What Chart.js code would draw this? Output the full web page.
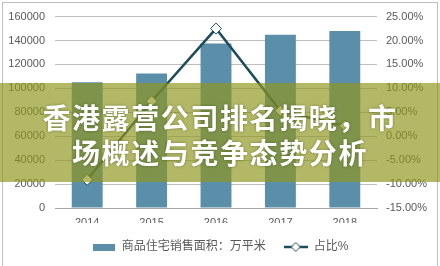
<!DOCTYPE html>
<html>
<head>
<meta charset="utf-8">
<script src="https://cdn.jsdelivr.net/npm/chart.js@4.4.0/dist/chart.umd.min.js"></script>
<style>
  html, body { margin: 0; padding: 0; background: #fff; }
  #wrap { position: relative; width: 440px; height: 266px; overflow: hidden; }
  #c { position: absolute; left: 0; top: 0; }
  #frame { position: absolute; left: 2px; top: 2px; width: 436px; height: 270px;
           border: 1px solid #bdbdbd; box-sizing: border-box; pointer-events: none; }
  #band { position: absolute; left: 0; top: 83px; width: 440px; height: 99px;
          background: rgba(143, 150, 30, 0.68); }
  #title { position: absolute; left: 0; top: 100px; width: 440px; text-align: center;
           font-family: "Noto Sans CJK SC", sans-serif; font-weight: bold; font-size: 28px;
           line-height: 35px; letter-spacing: 1.6px; color: #fff;
           text-shadow: 0 0 3px rgba(40, 50, 10, 0.45); }
</style>
</head>
<body>
<div id="wrap">
  <canvas id="c" width="440" height="266"></canvas>
  <div id="frame"></div>
  <div id="band"></div>
  <div id="title">香港露营公司排名揭晓，市<br>场概述与竞争态势分析</div>
</div>
<script>
const years = ['2014', '2015', '2016', '2017', '2018'];
const salesArea = [105188, 112412, 137540, 144789, 147929];   // 万平米
const sharePct = [-9.1, 7.3, 22.5, 5.3, 2.2];                 // %
const leftTicks = [0, 20000, 40000, 60000, 80000, 100000, 120000, 140000, 160000];
const rightTicks = [-15, -10, -5, 0, 5, 10, 15, 20, 25];

const BAR = '#5a8ea9';
const LINE = '#1e4d5a';
const TXT = '#595959';
const FONT = "'Liberation Sans', 'Noto Sans CJK SC', sans-serif";

// legend icons
function barIcon() {
    const cv = document.createElement('canvas');
    cv.width = 22; cv.height = 7;
    const g = cv.getContext('2d');
    g.fillStyle = BAR;
    g.fillRect(0, 0, 22, 7);
    return cv;
}
function lineIcon() {
    const cv = document.createElement('canvas');
    cv.width = 24; cv.height = 12;
    const g = cv.getContext('2d');
    g.strokeStyle = LINE; g.lineWidth = 2.5;
    g.beginPath(); g.moveTo(0, 6); g.lineTo(24, 6); g.stroke();
    g.fillStyle = '#fff'; g.lineWidth = 1;
    g.beginPath(); g.moveTo(12, 1.5); g.lineTo(16.5, 6); g.lineTo(12, 10.5); g.lineTo(7.5, 6); g.closePath();
    g.fill(); g.stroke();
    return cv;
}
const icons = [barIcon(), lineIcon()];

new Chart(document.getElementById('c'), {
    type: 'bar',
    data: {
        labels: years,
        datasets: [{
            type: 'bar',
            label: '商品住宅销售面积：万平米',
            data: salesArea,
            backgroundColor: BAR,
            yAxisID: 'y',
            order: 2,
            barPercentage: 0.96,
            categoryPercentage: 0.5
        }, {
            type: 'line',
            label: '占比%',
            data: sharePct,
            borderColor: LINE,
            borderWidth: 2.5,
            tension: 0,
            pointStyle: 'rectRot',
            pointRadius: 5.5,
            pointBackgroundColor: '#fff',
            pointBorderColor: LINE,
            pointBorderWidth: 1,
            yAxisID: 'y1',
            order: 1
        }]
    },
    options: {
        responsive: false,
        animation: false,
        layout: { padding: { top: 12, left: 0, right: 0, bottom: 9 } },
        scales: {
            x: {
                grid: { display: false, drawTicks: false },
                border: { color: '#a6a6a6', width: 1 },
                ticks: { color: TXT, font: { family: FONT, size: 11 }, padding: 8 },
                afterFit: s => { s.height = 15; }
            },
            y: {
                position: 'left',
                min: 0, max: 160000,
                afterBuildTicks: s => { s.ticks = leftTicks.map(v => ({ value: v })); },
                grid: { color: '#bfbfbf', drawTicks: false },
                border: { display: false },
                ticks: { color: TXT, font: { family: FONT, size: 11 }, padding: 10,
                         callback: v => String(v) },
                afterFit: s => { s.width = 55; }
            },
            y1: {
                position: 'right',
                min: -15, max: 25,
                afterBuildTicks: s => { s.ticks = rightTicks.map(v => ({ value: v })); },
                grid: { display: false, drawTicks: false },
                border: { display: false },
                ticks: { color: TXT, font: { family: FONT, size: 11 }, padding: 9,
                         callback: v => v.toFixed(2) + '%' },
                afterFit: s => { s.width = 63; }
            }
        },
        plugins: {
            tooltip: { enabled: false },
            legend: {
                position: 'bottom',
                maxHeight: 34,
                labels: {
                    color: TXT,
                    font: { family: FONT, size: 12 },
                    usePointStyle: true,
                    pointStyleWidth: 24,
                    padding: 18,
                    sort: (a, b) => a.datasetIndex - b.datasetIndex,
                    generateLabels: chart => {
                        const items = Chart.defaults.plugins.legend.labels.generateLabels(chart);
                        items.forEach(it => { it.pointStyle = icons[it.datasetIndex]; });
                        return items;
                    }
                }
            }
        }
    }
});
</script>
</body>
</html>
